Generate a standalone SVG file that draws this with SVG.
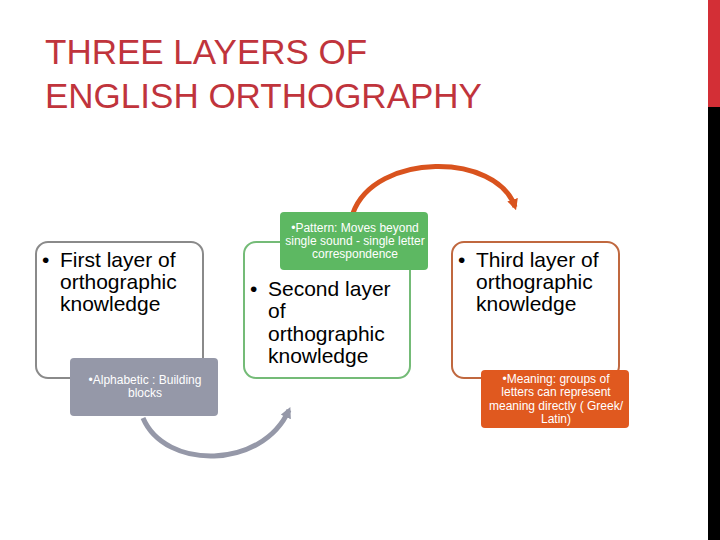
<svg xmlns="http://www.w3.org/2000/svg" width="720" height="540" viewBox="0 0 720 540">
<defs>
<style>
.title{font-family:"Liberation Sans",Arial,sans-serif;font-size:35px;fill:#c0343c}
.big{font-family:"Liberation Sans",Arial,sans-serif;font-size:21px;fill:#000}
.small{font-family:"Liberation Sans",Arial,sans-serif;font-size:12px;fill:#fff;text-anchor:middle}
.outline{fill:#fff;stroke-width:2}
</style>
<marker id="ahGray" viewBox="0 0 10 10" refX="7" refY="5" markerWidth="2.2" markerHeight="2.2" orient="auto" markerUnits="strokeWidth">
<path d="M0,0 L10,5 L0,10 z" fill="#9598a8"/>
</marker>
<marker id="ahOrange" viewBox="0 0 10 10" refX="7" refY="5" markerWidth="2.2" markerHeight="2.2" orient="auto" markerUnits="strokeWidth">
<path d="M0,0 L10,5 L0,10 z" fill="#d9531e"/>
</marker>
</defs>
<rect width="720" height="540" fill="#fff"/>
<rect x="708" y="0" width="12" height="107" fill="#d32f36"/>
<rect x="708" y="107" width="12" height="433" fill="#000"/>
<text class="title" x="45" y="64">THREE LAYERS OF</text>
<text class="title" x="45" y="108">ENGLISH ORTHOGRAPHY</text>

<g id="connectors">
<path d="M143,418 C165,470 262,470 289,410" fill="none" stroke="#9598a8" stroke-width="5" marker-end="url(#ahGray)"/>
<path d="M353,213 C375,152 497,152 515,207" fill="none" stroke="#d9531e" stroke-width="5" marker-end="url(#ahOrange)"/>
</g>

<g id="layer1">
<rect class="outline" x="36" y="242" width="167" height="136" rx="12" stroke="#8a8a8a"/>
<text class="big" x="42" y="267">•</text>
<text class="big" x="60" y="267">First layer of</text>
<text class="big" x="60" y="289">orthographic</text>
<text class="big" x="60" y="311">knowledge</text>
</g>
<g id="alphabetic">
<rect x="70" y="358" width="148" height="58" rx="4" fill="#9598a8"/>
<text class="small" x="145" y="384">•Alphabetic : Building</text>
<text class="small" x="145" y="397">blocks</text>
</g>

<g id="layer2">
<rect class="outline" x="244" y="242" width="166" height="136" rx="12" stroke="#74bb77"/>
<text class="big" x="250" y="296">•</text>
<text class="big" x="268" y="296">Second layer</text>
<text class="big" x="268" y="318">of</text>
<text class="big" x="268" y="341">orthographic</text>
<text class="big" x="268" y="363">knowledge</text>
</g>
<g id="pattern">
<rect x="280" y="212" width="148" height="58" rx="4" fill="#5db862"/>
<text class="small" x="355" y="232">•Pattern: Moves beyond</text>
<text class="small" x="355" y="245">single sound - single letter</text>
<text class="small" x="355" y="258">correspondence</text>
</g>

<g id="layer3">
<rect class="outline" x="452" y="242" width="167" height="136" rx="12" stroke="#c0683f"/>
<text class="big" x="458" y="267">•</text>
<text class="big" x="476" y="267">Third layer of</text>
<text class="big" x="476" y="289">orthographic</text>
<text class="big" x="476" y="311">knowledge</text>
</g>
<g id="meaning">
<rect x="481" y="370" width="148" height="58" rx="4" fill="#e0591f"/>
<text class="small" x="556" y="383">•Meaning: groups of</text>
<text class="small" x="556" y="396">letters can represent</text>
<text class="small" x="556" y="410">meaning directly ( Greek/</text>
<text class="small" x="556" y="423">Latin)</text>
</g>
</svg>
